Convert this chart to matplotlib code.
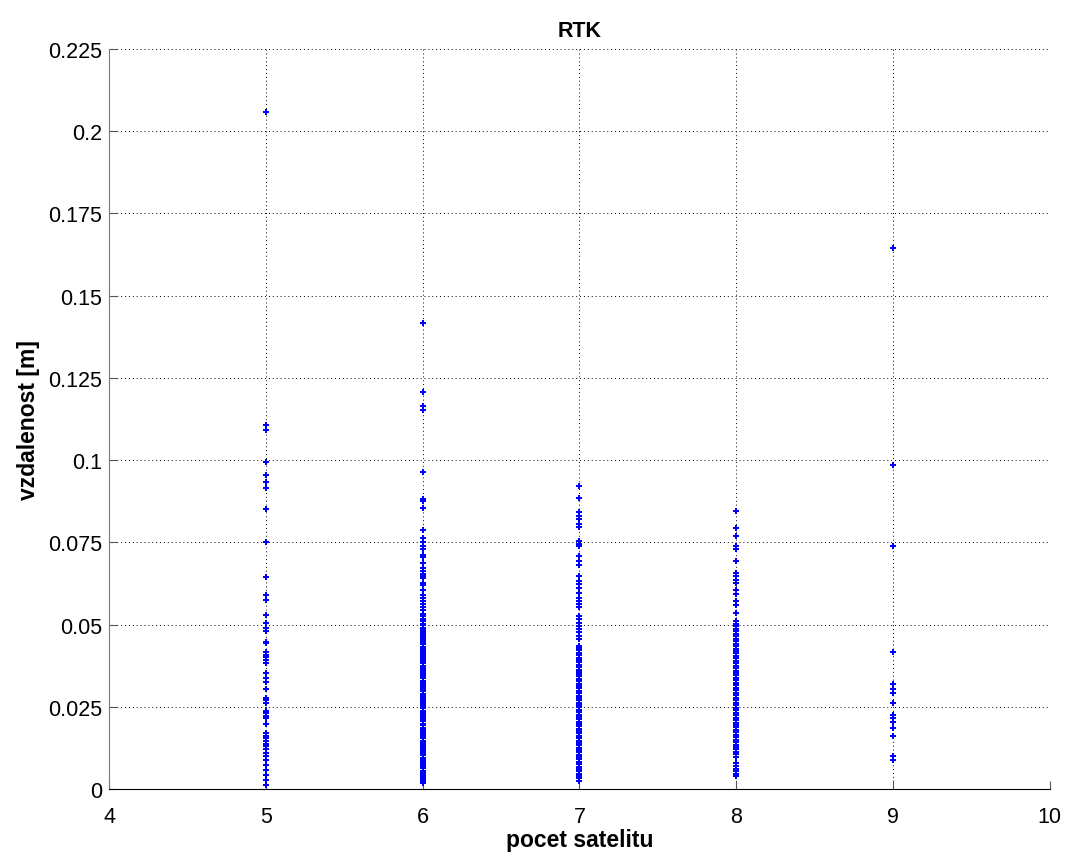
import numpy as np
import matplotlib
matplotlib.use('Agg')
import matplotlib.pyplot as plt

plt.rcParams['font.family'] = ['Liberation Sans', 'DejaVu Sans']

# distances [m] per satellite count
sat5 = [0.2057, 0.1108, 0.1090, 0.0995, 0.0956, 0.0932, 0.0915, 0.0850, 0.0750,
        0.0644, 0.0590, 0.0573, 0.0530, 0.0505, 0.0490, 0.0480, 0.0448, 0.0443,
        0.0415, 0.0407, 0.0400, 0.0392, 0.0384, 0.0353, 0.0338, 0.0325, 0.0305,
        0.0277, 0.0270, 0.0262, 0.0237, 0.0230, 0.0223, 0.0216, 0.0196, 0.0170,
        0.0162, 0.0154, 0.0146, 0.0138, 0.0130, 0.0120, 0.0110, 0.0099, 0.0089,
        0.0074, 0.0058, 0.0043, 0.0028, 0.0013]
sat6 = [0.1418, 0.1206, 0.1165, 0.1151, 0.0963, 0.0883, 0.0877, 0.0853, 0.0788,
        0.0762, 0.0750, 0.0740, 0.0729, 0.0712, 0.0705, 0.0688, 0.0672, 0.0664,
        0.0654, 0.0648, 0.0640, 0.0625, 0.0619, 0.0605, 0.0590, 0.0582, 0.0571,
        0.0562, 0.0553, 0.0545, 0.0532, 0.0526, 0.0518, 0.0510, 0.0503, 0.0497,
        0.0490, 0.0484, 0.0478, 0.0471, 0.0465, 0.0459, 0.0452, 0.0446, 0.0440,
        0.0433, 0.0427, 0.0420, 0.0414, 0.0407, 0.0401, 0.0395, 0.0388, 0.0382,
        0.0375, 0.0368, 0.0362, 0.0355, 0.0349, 0.0342, 0.0336, 0.0329, 0.0323,
        0.0316, 0.0310, 0.0303, 0.0297, 0.0290, 0.0284, 0.0277, 0.0271, 0.0264,
        0.0258, 0.0251, 0.0245, 0.0238, 0.0232, 0.0225, 0.0219, 0.0212, 0.0206,
        0.0199, 0.0193, 0.0186, 0.0180, 0.0173, 0.0167, 0.0160, 0.0154, 0.0147,
        0.0141, 0.0134, 0.0128, 0.0121, 0.0115, 0.0108, 0.0102, 0.0095, 0.0089,
        0.0082, 0.0076, 0.0069, 0.0063, 0.0056, 0.0050, 0.0043, 0.0037, 0.0030,
        0.0024, 0.0018]
sat7 = [0.0922, 0.0885, 0.0842, 0.0830, 0.0820, 0.0807, 0.0796, 0.0753, 0.0746,
        0.0738, 0.0708, 0.0694, 0.0681, 0.0646, 0.0633, 0.0623, 0.0610, 0.0596,
        0.0582, 0.0572, 0.0562, 0.0552, 0.0527, 0.0516, 0.0504, 0.0494, 0.0486,
        0.0476, 0.0465, 0.0455, 0.0435, 0.0428, 0.0421, 0.0414, 0.0406, 0.0399,
        0.0392, 0.0385, 0.0378, 0.0370, 0.0363, 0.0356, 0.0349, 0.0342, 0.0334,
        0.0327, 0.0320, 0.0313, 0.0306, 0.0298, 0.0291, 0.0284, 0.0277, 0.0270,
        0.0262, 0.0255, 0.0248, 0.0241, 0.0234, 0.0226, 0.0219, 0.0212, 0.0205,
        0.0198, 0.0190, 0.0183, 0.0176, 0.0169, 0.0162, 0.0154, 0.0147, 0.0140,
        0.0133, 0.0126, 0.0118, 0.0111, 0.0104, 0.0097, 0.0090, 0.0082, 0.0075,
        0.0068, 0.0061, 0.0054, 0.0046, 0.0039, 0.0032, 0.0025]
sat8 = [0.0845, 0.0794, 0.0769, 0.0740, 0.0730, 0.0692, 0.0657, 0.0647, 0.0636,
        0.0626, 0.0606, 0.0594, 0.0571, 0.0560, 0.0535, 0.0510, 0.0502, 0.0495,
        0.0487, 0.0480, 0.0472, 0.0465, 0.0457, 0.0450, 0.0442, 0.0435, 0.0427,
        0.0420, 0.0412, 0.0405, 0.0397, 0.0390, 0.0382, 0.0375, 0.0367, 0.0360,
        0.0352, 0.0345, 0.0337, 0.0330, 0.0322, 0.0315, 0.0307, 0.0300, 0.0292,
        0.0285, 0.0277, 0.0270, 0.0262, 0.0255, 0.0247, 0.0240, 0.0232, 0.0225,
        0.0217, 0.0210, 0.0202, 0.0195, 0.0187, 0.0180, 0.0172, 0.0165, 0.0157,
        0.0150, 0.0142, 0.0135, 0.0127, 0.0120, 0.0112, 0.0105, 0.0097, 0.0078,
        0.0070, 0.0062, 0.0054, 0.0046, 0.0040]
sat9 = [0.1645, 0.0986, 0.0739, 0.0415, 0.0320, 0.0305, 0.0292, 0.0262, 0.0225,
        0.0215, 0.0205, 0.0185, 0.0160, 0.0101, 0.0087]

groups = {5: sat5, 6: sat6, 7: sat7, 8: sat8, 9: sat9}

fig = plt.figure(figsize=(10.7, 8.54), dpi=100)
ax = fig.add_axes([0.102, 0.075, 0.879, 0.8665])

for n, vals in groups.items():
    ax.plot(np.full(len(vals), n), vals, linestyle='none', marker='P',
            markersize=4, markeredgewidth=0, color='#0000ff')

ax.set_xlim(4, 10)
ax.set_ylim(0, 0.225)
ax.set_xticks(range(4, 11))
yt = np.arange(0, 0.2251, 0.025)
ax.set_yticks(yt)
ax.set_yticklabels(['0', '0.025', '0.05', '0.075', '0.1', '0.125', '0.15',
                    '0.175', '0.2', '0.225'])
ax.grid(True, color='black', linestyle=(0, (1, 3)), linewidth=0.7)
ax.spines['top'].set_visible(False)
ax.spines['right'].set_visible(False)
ax.spines['left'].set_color('#777777')
ax.tick_params(direction='in', length=6, labelsize=15.5, color='#555555')
ax.tick_params(axis='x', pad=12)
ax.tick_params(axis='y', pad=5)
ax.set_title('RTK', fontsize=15.5, fontweight='bold', pad=9)
ax.set_xlabel('pocet satelitu', fontsize=16.5, fontweight='bold', labelpad=1)
ax.set_ylabel('vzdalenost [m]', fontsize=16.5, fontweight='bold', labelpad=6)

fig.savefig('out.png', dpi=100)
